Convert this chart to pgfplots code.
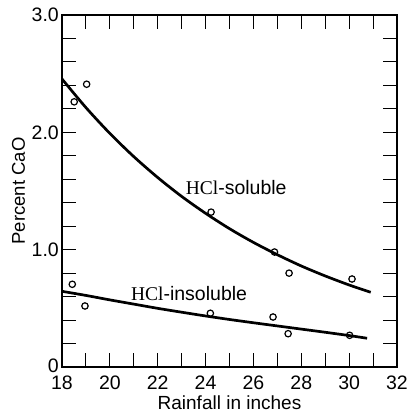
\documentclass[border=0pt]{standalone}
\usepackage{fontspec}
\setmainfont{Liberation Sans}
\newfontfamily\chemfont{Liberation Serif}
\usepackage{pgfplots}
\pgfplotsset{compat=1.18}

\begin{document}
\begin{tikzpicture}
\begin{axis}[
  scale only axis,
  width=335pt, height=352pt,
  xmin=18, xmax=32, ymin=0, ymax=3,
  xtick={18,20,...,32},
  xticklabels={18,20,22,24,26,28,30,32},
  minor xtick={19,21,...,31},
  ytick={0,1,2,3},
  yticklabels={\raisebox{3pt}{0}\hspace{4pt},1.0,2.0,3.0},
  minor ytick={0.2,0.4,0.6,0.8,1.2,1.4,1.6,1.8,2.2,2.4,2.6,2.8},
  tick align=inside,
  major tick length=14pt, minor tick length=14pt,
  tick style={black, line width=0.9pt},
  axis line style={line width=1.3pt},
  ticklabel style={font=\fontsize{19.5}{21}\selectfont},
  yticklabel style={inner sep=0pt, xshift=-3pt},
  xticklabel style={inner sep=0pt, yshift=-9pt},
  xlabel={Rainfall in inches},
  ylabel={Percent CaO},
  xlabel style={font=\fontsize{19}{21}\selectfont, at={(axis description cs:0.5,-0.082)}, anchor=north, inner sep=0pt},
  ylabel style={font=\fontsize{18.5}{21}\selectfont, at={(axis description cs:-0.11,0.5)}, anchor=south, inner sep=0pt},
  clip=false,
]
\coordinate (LL) at (rel axis cs:0,0);
\coordinate (UR) at (rel axis cs:1,1);
% fitted trend, HCl-soluble
\addplot[black, line width=2.7pt, smooth] coordinates {
  (18,2.455) (19,2.211) (20,1.991) (21,1.793) (22,1.615) (23,1.454)
  (24,1.310) (25,1.179) (26,1.062) (27,0.957) (28,0.861) (29,0.776)
  (30,0.699) (30.9,0.637)
};
% fitted trend, HCl-insoluble
\addplot[black, line width=2.7pt, smooth] coordinates {
  (18,0.645) (19,0.61) (20,0.572) (21,0.536) (22,0.50) (23,0.467)
  (24,0.435) (25,0.405) (26,0.377) (27,0.35) (28,0.323) (29,0.296)
  (30,0.268) (30.75,0.245)
};
% observations, HCl-soluble
\addplot[only marks, mark=o, mark size=3.2pt, mark options={line width=1.2pt, black, fill=white}] coordinates {
  (18.51,2.26) (19.03,2.41) (24.23,1.32) (26.88,0.98) (27.49,0.80) (30.12,0.75)
};
% observations, HCl-insoluble
\addplot[only marks, mark=o, mark size=3.2pt, mark options={line width=1.2pt, black, fill=white}] coordinates {
  (18.43,0.705) (18.96,0.52) (24.2,0.458) (26.82,0.426) (27.45,0.284) (30.02,0.27)
};
\node[inner sep=1pt, font=\fontsize{19.5}{21}\selectfont] at (axis cs:25.28,1.526) {{\chemfont HCl}-soluble};
\node[inner sep=1pt, font=\fontsize{19.5}{21}\selectfont] at (axis cs:23.31,0.63) {{\chemfont HCl}-insoluble};
\end{axis}
\pgfresetboundingbox
\path ([shift={(-62pt,-48pt)}]LL) rectangle ([shift={(11pt,15pt)}]UR);
\end{tikzpicture}
\end{document}
